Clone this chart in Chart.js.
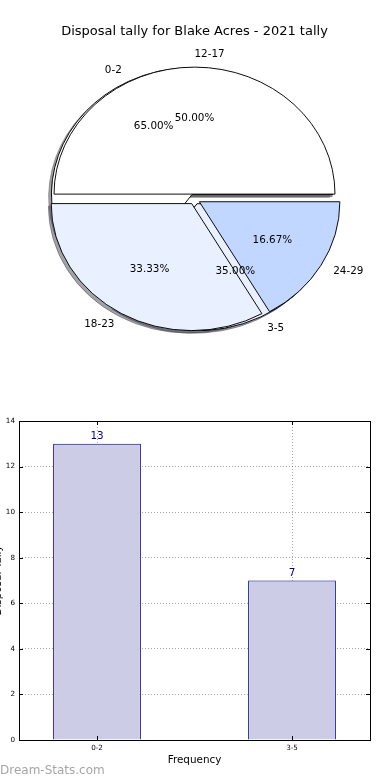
<!DOCTYPE html>
<html><head><meta charset="utf-8">
<script src="https://cdn.jsdelivr.net/npm/chart.js@4.4.1/dist/chart.umd.min.js"></script>
<style>
html,body{margin:0;padding:0;background:#fff;}
body{width:390px;height:780px;position:relative;overflow:hidden;font-family:'DejaVu Sans',sans-serif;}
#wm{position:absolute;left:0;top:763px;font-size:12px;line-height:14px;color:#a6a6a6;white-space:nowrap;}
</style></head><body>
<canvas id="pie" width="390" height="390" style="position:absolute;left:0;top:0"></canvas>
<canvas id="bar" width="390" height="380" style="position:absolute;left:0;top:400px"></canvas>
<div id="wm">Dream-Stats.com</div>
<script>
const chartTitle = 'Disposal tally for Blake Acres - 2021 tally';
// pie drawn first (underneath)
const pieALabels = ['0-2', '3-5'];
const pieAValues = [65, 35];
const pieAColors = ['#ffffff', '#e9f0ff'];
const pieAExplode = [0.04, 0.04];
// pie drawn on top
const pieBLabels = ['12-17', '18-23', '24-29'];
const pieBValues = [50, 33.33, 16.67];
const pieBColors = ['#ffffff', '#e9f0ff', '#c2d7ff'];
const pieBExplode = [0.04, 0.04, 0.04];

const barCategories = ['0-2', '3-5'];
const barValues = [13, 7];
const yTickValues = [0, 2, 4, 6, 8, 10, 12, 14];
const xAxisTitle = 'Frequency';
const yAxisTitle = 'Disposal Tally';

Chart.defaults.font.family = "'DejaVu Sans'";
const YR = 127 / 140.5;   // vertical squash of the (non-square) pie axes
const LABEL_FONT = "10.4px 'DejaVu Sans'";

const explodeOf = [pieBExplode, pieAExplode];
const labelsOf = [pieBLabels, pieALabels];
const valuesOf = [pieBValues, pieAValues];

function shade(hex) {
  const n = parseInt(hex.slice(1), 16);
  const r = (n >> 16) & 255, g = (n >> 8) & 255, b = n & 255;
  return `rgba(${Math.round(r*0.3)},${Math.round(g*0.3)},${Math.round(b*0.3)},0.5)`;
}

const piePlugin = {
  id: 'mplPie',
  beforeDatasetsDraw(chart) {
    const ctx = chart.ctx;
    const order = [1, 0];
    const R = chart.getDatasetMeta(0).controller.outerRadius;
    const first = chart.getDatasetMeta(0).data[0];
    const cx = first.x, cy = first.y;
    ctx.save();
    ctx.translate(cx, cy); ctx.scale(1, -YR); ctx.translate(-cx, -cy);
    const sh = R * 0.02;
    const pass = (shadow) => order.forEach(d => {
      const meta = chart.getDatasetMeta(d);
      meta.data.forEach((arc, i) => {
        arc.innerRadius = 0; arc.outerRadius = R;
        const mid = (arc.startAngle + arc.endAngle) / 2;
        const e = explodeOf[d][i] * R;
        ctx.save();
        ctx.translate(e*Math.cos(mid) + (shadow ? -sh : 0), e*Math.sin(mid) + (shadow ? -sh : 0));
        if (shadow) {
          const o = arc.options;
          const c = shade(o.backgroundColor);
          arc.options = Object.assign({}, o, {backgroundColor: c, borderColor: c});
          arc.draw(ctx);
          arc.options = o;
        } else {
          arc.draw(ctx);
        }
        ctx.restore();
      });
    });
    pass(true); pass(false);
    ctx.restore();
    return false;
  },
  afterDraw(chart) {
    const ctx = chart.ctx;
    const R = chart.getDatasetMeta(0).controller.outerRadius;
    const first = chart.getDatasetMeta(0).data[0];
    const cx = first.x, cy = first.y;
    ctx.save();
    ctx.font = LABEL_FONT; ctx.fillStyle = '#000'; ctx.textBaseline = 'middle';
    [1, 0].forEach(d => {
      const total = valuesOf[d].reduce((a, b) => a + b, 0);
      chart.getDatasetMeta(d).data.forEach((arc, i) => {
        const mid = (arc.startAngle + arc.endAngle) / 2;
        const e = explodeOf[d][i];
        const c = Math.cos(mid), s = Math.sin(mid);
        ctx.textAlign = c > 0 ? 'left' : 'right';
        ctx.fillText(labelsOf[d][i], cx + (e + 1.1)*R*c, cy - (e + 1.1)*R*YR*s);
        ctx.textAlign = 'center';
        ctx.fillText((valuesOf[d][i] / total * 100).toFixed(2) + '%', cx + (e + 0.6)*R*c, cy - (e + 0.6)*R*YR*s);
      });
    });
    ctx.restore();
  }
};

new Chart(document.getElementById('pie'), {
  type: 'pie',
  data: {
    labels: pieBLabels,
    datasets: [
      {data: pieBValues, backgroundColor: pieBColors, borderColor: '#000', borderWidth: 1},
      {data: pieAValues, backgroundColor: pieAColors, borderColor: '#000', borderWidth: 1}
    ]
  },
  options: {
    responsive: false, animation: false, events: [],
    radius: 140.5, rotation: 90,
    layout: {padding: {top: 0, left: 0, right: 1, bottom: 40.8}},
    plugins: {
      legend: {display: false}, tooltip: {enabled: false},
      title: {display: true, text: chartTitle, color: '#000', font: {size: 13, weight: 'normal'}, padding: {top: 23.6, bottom: 10}}
    }
  },
  plugins: [piePlugin]
});

const barPlugin = {
  id: 'mplFrame',
  afterDraw(chart) {
    const {ctx, chartArea: a} = chart;
    const xs = chart.scales.x, ys = chart.scales.y;
    ctx.save();
    ctx.strokeStyle = '#000'; ctx.lineWidth = 1;
    ctx.beginPath();
    yTickValues.forEach(v => {
      const y = Math.round(ys.getPixelForValue(v)) + 0.5;
      ctx.moveTo(a.left, y); ctx.lineTo(a.left + 4, y);
      ctx.moveTo(a.right, y); ctx.lineTo(a.right - 4, y);
    });
    barCategories.forEach((c, i) => {
      const x = Math.round(xs.getPixelForValue(i)) + 0.5;
      ctx.moveTo(x, a.bottom); ctx.lineTo(x, a.bottom - 4);
      ctx.moveTo(x, a.top); ctx.lineTo(x, a.top + 4);
    });
    ctx.stroke();
    ctx.strokeRect(Math.round(a.left) + 0.5, Math.round(a.top) + 0.5, Math.round(a.right - a.left), Math.round(a.bottom - a.top));
    ctx.font = LABEL_FONT; ctx.fillStyle = '#000080'; ctx.textAlign = 'center'; ctx.textBaseline = 'alphabetic';
    chart.getDatasetMeta(0).data.forEach((b, i) => {
      ctx.fillText(String(barValues[i]), b.x, b.y - 5);
    });
    ctx.restore();
  }
};

new Chart(document.getElementById('bar'), {
  type: 'bar',
  data: {
    datasets: [{
      data: barValues.map((v, i) => ({x: i, y: v})),
      backgroundColor: '#ccccE6', borderColor: '#000088', borderWidth: 1,
      barPercentage: 0.45, categoryPercentage: 1
    }]
  },
  options: {
    responsive: false, animation: false, events: [],
    layout: {padding: {top: 21, right: 20, left: 0, bottom: 0}},
    plugins: {legend: {display: false}, tooltip: {enabled: false}},
    scales: {
      x: {
        type: 'linear', min: -0.4, max: 1.4, offset: false, z: 1,
        afterBuildTicks: s => { s.ticks = barCategories.map((c, i) => ({value: i})); },
        ticks: {callback: v => barCategories[v], font: {size: 7.2}, color: '#000', padding: 4, maxRotation: 0, autoSkip: false},
        grid: {color: 'rgba(0,0,0,0.35)', drawTicks: false, offset: false},
        border: {display: false, dash: [1, 2]},
        title: {display: true, text: xAxisTitle, color: '#000', font: {size: 10.4}, padding: {top: 0, bottom: 13.8}},
        afterFit: s => { s.height = 40; }
      },
      y: {
        min: 0, max: 14, z: 1,
        afterBuildTicks: s => { s.ticks = yTickValues.map(v => ({value: v})); },
        ticks: {font: {size: 7.2}, color: '#000', padding: 4},
        grid: {color: 'rgba(0,0,0,0.35)', drawTicks: false},
        border: {display: false, dash: [1, 2]},
        title: {display: true, text: yAxisTitle, color: '#000', font: {size: 10.4}, padding: {top: -7.7, bottom: 0}},
        afterFit: s => { s.width = 19; }
      }
    }
  },
  plugins: [barPlugin]
});
</script>
</body></html>
